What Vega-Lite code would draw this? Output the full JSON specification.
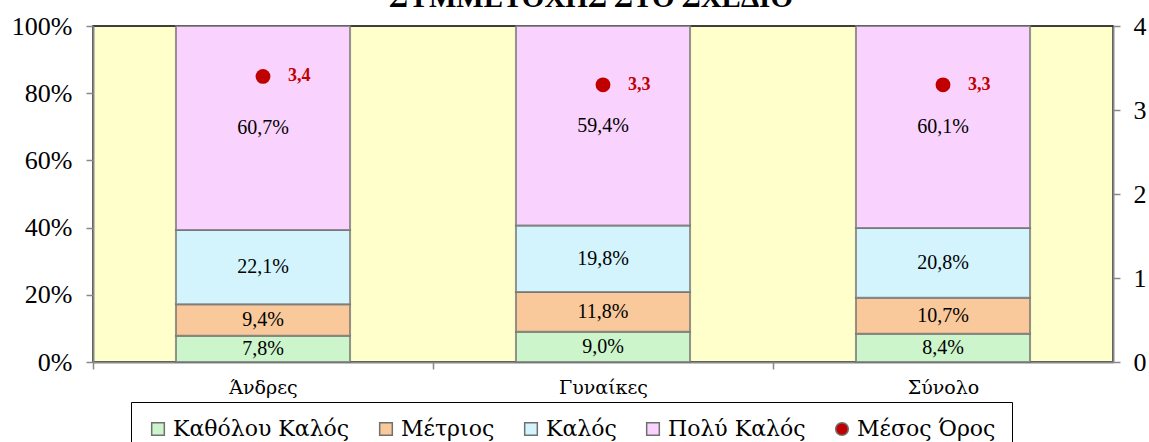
{
  "$schema": "https://vega.github.io/schema/vega-lite/v6.json",
  "width": 1020,
  "height": 336,
  "autosize": "none",
  "padding": {"left": 93, "top": 26, "right": 36, "bottom": 80},
  "background": "white",
  "config": {
    "locale": {"number": {"decimal": ",", "thousands": ".", "grouping": [3], "currency": ["", " €"]}},
    "font": "Liberation Serif",
    "view": {"fill": "#FFFFCC", "stroke": "#000", "strokeWidth": 1.5}
  },
  "title": {
    "text": "ΣΥΜΜΕΤΟΧΗΣ ΣΤΟ ΣΧΕΔΙΟ",
    "font": "Liberation Serif",
    "fontSize": 29,
    "fontWeight": "bold",
    "color": "#000",
    "anchor": "middle",
    "baseline": "alphabetic",
    "offset": 0,
    "dx": -12,
    "dy": 23
  },
  "datasets": {
    "dist": [
      {"g": "Άνδρες", "cat": "Καθόλου Καλός", "v": 0.078, "ord": 1},
      {"g": "Άνδρες", "cat": "Μέτριος", "v": 0.094, "ord": 2},
      {"g": "Άνδρες", "cat": "Καλός", "v": 0.221, "ord": 3},
      {"g": "Άνδρες", "cat": "Πολύ Καλός", "v": 0.607, "ord": 4},
      {"g": "Γυναίκες", "cat": "Καθόλου Καλός", "v": 0.090, "ord": 1},
      {"g": "Γυναίκες", "cat": "Μέτριος", "v": 0.118, "ord": 2},
      {"g": "Γυναίκες", "cat": "Καλός", "v": 0.198, "ord": 3},
      {"g": "Γυναίκες", "cat": "Πολύ Καλός", "v": 0.594, "ord": 4},
      {"g": "Σύνολο", "cat": "Καθόλου Καλός", "v": 0.084, "ord": 1},
      {"g": "Σύνολο", "cat": "Μέτριος", "v": 0.107, "ord": 2},
      {"g": "Σύνολο", "cat": "Καλός", "v": 0.208, "ord": 3},
      {"g": "Σύνολο", "cat": "Πολύ Καλός", "v": 0.601, "ord": 4}
    ],
    "mean": [
      {"g": "Άνδρες", "cat": "Μέσος Όρος", "m": 3.4},
      {"g": "Γυναίκες", "cat": "Μέσος Όρος", "m": 3.3},
      {"g": "Σύνολο", "cat": "Μέσος Όρος", "m": 3.3}
    ]
  },
  "encoding": {
    "x": {
      "field": "g",
      "type": "nominal",
      "sort": ["Άνδρες", "Γυναίκες", "Σύνολο"],
      "scale": {"paddingInner": 0.488, "paddingOuter": 0.244},
      "axis": {
        "title": null,
        "labelAngle": 0,
        "labelFont": "DejaVu Serif",
        "labelFontSize": 19,
        "labelColor": "#000",
        "domainColor": "#888",
        "domainWidth": 2,
        "tickColor": "#888",
        "tickWidth": 1.5,
        "tickSize": 7,
        "labelPadding": 9,
        "bandPosition": 0,
        "tickOffset": -83,
        "labelOffset": 83
      }
    }
  },
  "layer": [
    {
      "data": {"name": "dist"},
      "layer": [
        {
          "mark": {"type": "bar", "stroke": "#707070", "strokeOpacity": 0.75, "strokeWidth": 2},
          "encoding": {
            "y": {
              "field": "v",
              "type": "quantitative",
              "stack": "zero",
              "scale": {"domain": [0, 1]},
              "axis": {
                "title": null,
                "format": ".0%",
                "values": [0, 0.2, 0.4, 0.6, 0.8, 1],
                "labelFont": "Liberation Serif",
                "labelFontSize": 26,
                "labelColor": "#000",
                "domainColor": "#888",
                "domainWidth": 2,
                "tickColor": "#888",
                "tickWidth": 1.5,
                "tickSize": 7,
                "labelPadding": 14,
                "grid": false
              }
            },
            "color": {
              "field": "cat",
              "type": "nominal",
              "scale": {
                "domain": ["Καθόλου Καλός", "Μέτριος", "Καλός", "Πολύ Καλός", "Μέσος Όρος"],
                "range": ["#CCF5CC", "#F9C89B", "#D3F4FD", "#F9D3FD", "#C00000"]
              },
              "legend": {
                "orient": "none",
                "legendX": 38,
                "legendY": 376,
                "direction": "horizontal",
                "title": null,
                "labelFont": "DejaVu Serif",
                "labelFontSize": 22,
                "labelColor": "#000",
                "labelLimit": 0,
                "symbolSize": 160,
                "columnPadding": 25,
                "padding": 16,
                "strokeColor": "#000",
                "fillColor": "#fff"
              }
            },
            "order": {"field": "ord", "type": "quantitative"}
          }
        },
        {
          "mark": {"type": "text", "fontSize": 20, "color": "#000", "font": "Liberation Serif"},
          "encoding": {
            "y": {
              "field": "v",
              "type": "quantitative",
              "stack": "zero",
              "bandPosition": 0.5,
              "scale": {"domain": [0, 1]},
              "axis": {
                "title": null,
                "format": ".0%",
                "values": [0, 0.2, 0.4, 0.6, 0.8, 1],
                "labelFont": "Liberation Serif",
                "labelFontSize": 26,
                "labelColor": "#000",
                "domainColor": "#888",
                "domainWidth": 2,
                "tickColor": "#888",
                "tickWidth": 1.5,
                "tickSize": 7,
                "labelPadding": 14,
                "grid": false
              }
            },
            "detail": {"field": "cat", "type": "nominal"},
            "order": {"field": "ord", "type": "quantitative"},
            "text": {"field": "v", "type": "quantitative", "format": ".1%"}
          }
        }
      ]
    },
    {
      "data": {"name": "mean"},
      "layer": [
        {
          "mark": {"type": "point", "filled": true, "size": 220, "opacity": 1},
          "encoding": {
            "y": {
              "field": "m",
              "type": "quantitative",
              "scale": {"domain": [0, 4]},
              "axis": {
                "orient": "right",
                "title": null,
                "values": [0, 1, 2, 3, 4],
                "format": "d",
                "labelFont": "Liberation Serif",
                "labelFontSize": 26,
                "labelColor": "#000",
                "domainColor": "#888",
                "domainWidth": 2,
                "tickColor": "#888",
                "tickWidth": 1.5,
                "tickSize": 7,
                "labelPadding": 13,
                "grid": false
              }
            },
            "color": {"field": "cat", "type": "nominal"},
            "shape": {
              "field": "cat",
              "type": "nominal",
              "scale": {
                "domain": ["Καθόλου Καλός", "Μέτριος", "Καλός", "Πολύ Καλός", "Μέσος Όρος"],
                "range": ["square", "square", "square", "square", "circle"]
              },
              "legend": {
                "orient": "none",
                "legendX": 38,
                "legendY": 376,
                "direction": "horizontal",
                "title": null,
                "labelFont": "DejaVu Serif",
                "labelFontSize": 22,
                "labelColor": "#000",
                "labelLimit": 0,
                "symbolSize": 160,
                "columnPadding": 25,
                "padding": 16,
                "strokeColor": "#000",
                "fillColor": "#fff"
              }
            }
          }
        },
        {
          "mark": {"type": "text", "align": "left", "dx": 25, "fontSize": 18, "fontWeight": "bold", "color": "#C00000", "font": "Liberation Serif"},
          "encoding": {
            "y": {
              "field": "m",
              "type": "quantitative",
              "scale": {"domain": [0, 4]},
              "axis": {
                "orient": "right",
                "title": null,
                "values": [0, 1, 2, 3, 4],
                "format": "d",
                "labelFont": "Liberation Serif",
                "labelFontSize": 26,
                "labelColor": "#000",
                "domainColor": "#888",
                "domainWidth": 2,
                "tickColor": "#888",
                "tickWidth": 1.5,
                "tickSize": 7,
                "labelPadding": 13,
                "grid": false
              }
            },
            "text": {"field": "m", "type": "quantitative", "format": ".1f"}
          }
        }
      ]
    }
  ],
  "resolve": {"scale": {"y": "independent"}, "axis": {"y": "independent"}}
}
